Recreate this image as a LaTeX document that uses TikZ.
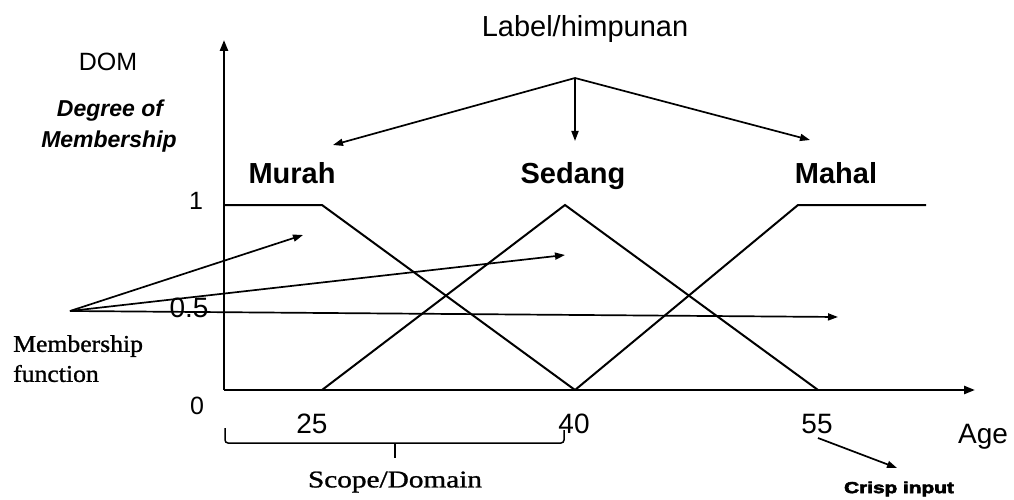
\documentclass[tikz,border=0pt]{standalone}
\usepackage{fontspec}
\setmainfont{Liberation Serif}
\setsansfont{Liberation Sans}
\newfontfamily\heavysans[FakeBold=3]{Liberation Sans Bold}
\newfontfamily\thickserif[FakeBold=1]{Liberation Serif}
\usetikzlibrary{arrows.meta}
\tikzset{
  axis/.style={line width=2.4pt,-{Triangle[length=11pt,width=8pt]}},
  mf/.style={line width=2pt,line join=miter},
  pointer/.style={line width=1.7pt,-{Triangle[length=10pt,width=7pt]}},
  setname/.style={inner sep=0pt,anchor=base,font=\sffamily\bfseries\fontsize{29}{34}\selectfont},
  num/.style={inner sep=0pt,font=\sffamily\fontsize{28}{33}\selectfont},
  smallnum/.style={inner sep=0pt,font=\sffamily\fontsize{25}{30}\selectfont},
  sertext/.style={inner sep=0pt,font=\thickserif\fontsize{24}{30}\selectfont},
  brace/.style={line width=1.5pt,rounded corners=3pt},
}
\begin{document}
\begin{tikzpicture}[x=1pt,y=-1pt]
\useasboundingbox (0,0) rectangle (1014,500);
% axes
\coordinate (O) at (224,390);
\coordinate (ytip) at (224,40);
\coordinate (xtip) at (975,390);
\draw[axis] (O) -- (ytip);
\draw[axis] (O) -- (xtip);
% membership functions
\coordinate (m1) at (224,205);
\coordinate (m2) at (322,205);
\coordinate (m3) at (575,390);
\coordinate (s1) at (322,390);
\coordinate (s2) at (565,205);
\coordinate (s3) at (818,390);
\coordinate (h1) at (575,390);
\coordinate (h2) at (798,205);
\coordinate (h3) at (926,205);
\draw[mf] (m1) -- (m2) -- (m3);
\draw[mf] (s1) -- (s2) -- (s3);
\draw[mf] (h1) -- (h2) -- (h3);
% labels of sets
\node[inner sep=0pt,anchor=base,font=\sffamily\fontsize{29}{34}\selectfont] (lbl) at (585,37) {Label/himpunan};
\node[setname] (murah) at (292,183) {Murah};
\node[setname] (sedang) at (573,183) {Sedang};
\node[setname] (mahal) at (836,183) {Mahal};
\coordinate (hub) at (575,78);
\coordinate (tmurah) at (333,145);
\coordinate (tsedang) at (575,141);
\coordinate (tmahal) at (810,140);
\draw[pointer] (hub) -- (tmurah);
\draw[pointer] (hub) -- (tsedang);
\draw[pointer] (hub) -- (tmahal);
% DOM
\node[inner sep=0pt,anchor=base,font=\sffamily\fontsize{25}{30}\selectfont] (dom) at (108,71) {DOM};
\node[inner sep=0pt,anchor=base,font=\sffamily\bfseries\itshape\fontsize{23}{29}\selectfont] (deg1) at (110,117) {Degree of};
\node[inner sep=0pt,anchor=base,font=\sffamily\bfseries\itshape\fontsize{23}{29}\selectfont] (deg2) at (109,147) {Membership};
% numbers
\node[smallnum] (n1) at (196,201) {1};
\node[num] (n05) at (189,308) {0.5};
\node[smallnum] (n0) at (197,406) {0};
\node[num] (n25) at (312,424) {25};
\node[num] (n40) at (574,424) {40};
\node[num] (n55) at (817,424) {55};
\node[num] (age) at (983,437) {Age};
% membership function pointers
\node[sertext,anchor=north west,align=left] (mfun) at (13,335) {\scalebox{1.07}[1]{Membership}\\\scalebox{1.07}[1]{function}};
\coordinate (mfhub) at (70,311);
\coordinate (p1) at (303,235);
\coordinate (p2) at (565,255);
\coordinate (p3) at (838,317);
\draw[pointer] (mfhub) -- (p1);
\draw[pointer] (mfhub) -- (p2);
\draw[pointer] (mfhub) -- (p3);
% scope/domain brace
\coordinate (bl) at (225,428);
\coordinate (bm) at (395,443);
\coordinate (bt) at (395,458);
\coordinate (br) at (564,430);
\draw[brace] (bl) |- (bm) -| (br);
\draw[line width=1.5pt] (bm) -- (bt);
\node[sertext] (scope) at (395,482) {\scalebox{1.22}[1]{Scope/Domain}};
% crisp input
\coordinate (c1) at (818,438);
\coordinate (c2) at (897,468);
\draw[pointer] (c1) -- (c2);
\node[inner sep=0pt,font=\heavysans\fontsize{16}{19}\selectfont] (crisp) at (899,489) {\scalebox{1.3}[1]{Crisp input}};
\end{tikzpicture}
\end{document}
